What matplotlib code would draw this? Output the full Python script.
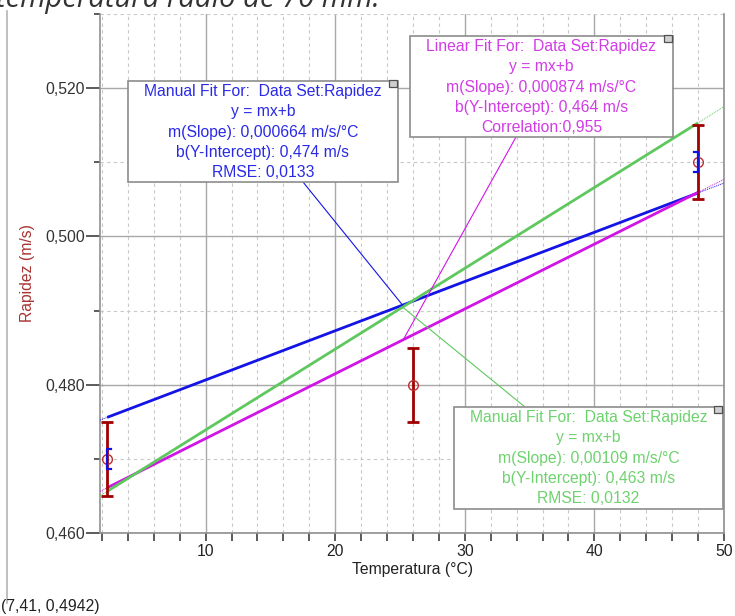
import matplotlib
matplotlib.use('Agg')
import matplotlib.pyplot as plt
import matplotlib.patches as patches
from matplotlib.lines import Line2D
from matplotlib.ticker import MultipleLocator, FuncFormatter

# measured points
temps = [2.4, 26, 48]
speeds = [0.470, 0.480, 0.510]
speed_err = [0.005, 0.005, 0.005]

# small blue brackets on first and last point
bracket_x = [2.4, 48]
bracket_y = [0.470, 0.510]
bracket_half = 0.00135

# fits: manual (blue), linear (magenta), manual (green)
fit_slopes = [0.000664, 0.000874, 0.00109]
fit_intercepts = [0.474, 0.464, 0.463]
leader_x = [25.2, 25.25, 25.2]
fit_labels = [
    ['Manual Fit For:  Data Set:Rapidez', 'y = mx+b',
     'm(Slope): 0,000664 m/s/°C', 'b(Y-Intercept): 0,474 m/s', 'RMSE: 0,0133'],
    ['Linear Fit For:  Data Set:Rapidez', 'y = mx+b',
     'm(Slope): 0,000874 m/s/°C', 'b(Y-Intercept): 0,464 m/s', 'Correlation:0,955'],
    ['Manual Fit For:  Data Set:Rapidez', 'y = mx+b',
     'm(Slope): 0,00109 m/s/°C', 'b(Y-Intercept): 0,463 m/s', 'RMSE: 0,0132'],
]

W, H = 735, 616
line_colors = ['#1414e6', '#d214e6', '#5ec85e']
text_colors = ['#2a2ae6', '#d23ce6', '#6ed26e']
# box corners in pixels (left, top, right, bottom), leader end on box
boxes = [(128, 81, 398, 182), (410, 36, 673, 137), (454, 407, 723, 509)]
leader_ends = [(303, 182), (516, 137), (525, 407)]

plt.rcParams['font.family'] = ['Liberation Sans', 'DejaVu Sans']

fig = plt.figure(figsize=(W / 100, H / 100), dpi=100)
ax = fig.add_axes([100 / W, 83 / H, 624 / W, 519 / H])
ax.set_xlim(1.85, 50)
ax.set_ylim(0.460, 0.530)

ax.xaxis.set_major_locator(MultipleLocator(10))
ax.xaxis.set_minor_locator(MultipleLocator(2))
ax.yaxis.set_major_locator(MultipleLocator(0.02))
ax.yaxis.set_minor_locator(MultipleLocator(0.01))
ax.yaxis.set_major_formatter(FuncFormatter(lambda v, p: ('%.3f' % v).replace('.', ',')))
ax.xaxis.set_major_formatter(FuncFormatter(lambda v, p: '%d' % v))

ax.grid(which='major', color='#a8a8a8', lw=1.0)
ax.grid(which='minor', color='#c8c8c8', lw=0.8, ls=(0, (3, 3)))
ax.set_axisbelow(True)

ax.spines['top'].set_visible(False)
for s in ['left', 'bottom', 'right']:
    ax.spines[s].set_color('#909090')
    ax.spines[s].set_linewidth(1.2)

ax.tick_params(axis='y', which='major', length=10, width=1.2, color='#404040',
               labelsize=11.3, labelcolor='#333333', pad=1)
ax.tick_params(axis='y', which='minor', length=4, width=1.2, color='#404040')
ax.tick_params(axis='x', which='both', length=6, width=1.2, color='#404040',
               labelsize=11.3, labelcolor='#222222', pad=2)

ax.set_xlabel('Temperatura (°C)', fontsize=11.3, color='#222222', labelpad=2)
ax.set_ylabel('Rapidez (m/s)', fontsize=11.3, color='#a83232', labelpad=7)

x0, x1 = ax.get_xlim()
for m, b, c in zip(fit_slopes, fit_intercepts, line_colors):
    ax.plot([x0, x1], [m * x0 + b, m * x1 + b], color=c, lw=0.7, ls=(0, (1, 1)), zorder=3)
    ax.plot([temps[0], temps[-1]], [m * temps[0] + b, m * temps[-1] + b],
            color=c, lw=2.0, zorder=4, solid_capstyle='butt')

ax.errorbar(temps, speeds, yerr=speed_err, fmt='none', ecolor='#a00000',
            elinewidth=2.0, capsize=4.5, capthick=2.0, zorder=5)
ax.plot(temps, speeds, 'o', mfc='none', mec='#b83030', ms=7, mew=1.0, zorder=6)

# blue brackets
cap = 0.3
for bx, by, d in zip(bracket_x, bracket_y, [1, -1]):
    lo, hi = by - bracket_half, by + bracket_half
    ax.plot([bx + d * cap, bx, bx, bx + d * cap], [hi, hi, lo, lo],
            color='#1010e0', lw=1.6, zorder=7)

# leader lines from fit lines to the boxes
for lx, m, b, c, (px, py) in zip(leader_x, fit_slopes, fit_intercepts, line_colors, leader_ends):
    con = patches.ConnectionPatch(xyA=(lx, m * lx + b), coordsA=ax.transData,
                                  xyB=(px, H - py), coordsB='figure pixels',
                                  color=c, lw=0.8, zorder=8)
    fig.add_artist(con)

# fit boxes
for (l, t, r, btm), lines, tc in zip(boxes, fit_labels, text_colors):
    rect = patches.Rectangle((l / W, 1 - btm / H), (r - l) / W, (btm - t) / H,
                             transform=fig.transFigure, fc='white', ec='#8c8c8c',
                             lw=1.2, zorder=10)
    fig.add_artist(rect)
    sq = patches.Rectangle(((r - 9) / W, 1 - (t + 6) / H), 8 / W, 7 / H,
                           transform=fig.transFigure, fc='#d0d0d0', ec='#505050',
                           lw=0.9, zorder=11)
    fig.add_artist(sq)
    cx = (l + r) / 2
    for i, s in enumerate(lines):
        fig.text(cx / W, 1 - (t + 10.5 + i * 20.3) / H, s, ha='center', va='center',
                 fontsize=11.3, color=tc, zorder=12)

# window border on the left
fig.add_artist(Line2D([7.5 / W, 7.5 / W], [1 - 11 / H, 1 - 603 / H],
                      transform=fig.transFigure, color='#b4b4b4', lw=1.2))

# title of the page above, cut off by the top edge as in the screenshot
fig.text(-4 / W, 1 - 7 / H, 'temperatura radio de 70 mm.', fontsize=21,
         style='italic', family=['Open Sans', 'DejaVu Sans'], color='#333333',
         ha='left', va='baseline')

fig.text(1 / W, 1 - 607 / H, '(7,41, 0,4942)', fontsize=11.3, color='#222222',
         ha='left', va='center')

fig.savefig('out.png', dpi=100)
